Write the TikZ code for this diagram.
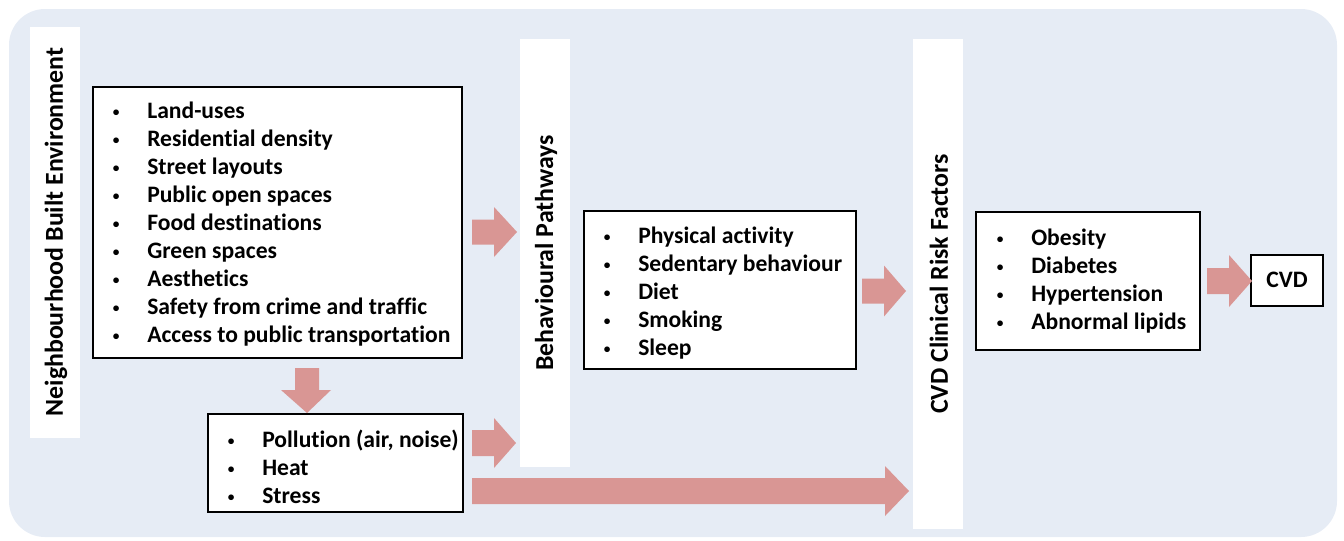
\documentclass[tikz,border=0pt]{standalone}
\usepackage{fontspec}
\setmainfont{Carlito}[Ligatures=NoCommon]
\definecolor{bgblue}{RGB}{230,236,245}
\definecolor{arrowpink}{RGB}{217,150,148}
\newcommand\itm[1]{\makebox[0pt]{\raisebox{0.9pt}{\fontsize{10}{10}\selectfont •}}\hspace{23.25pt}#1\\}
\newcommand\harrow[6]{\fill[arrowpink] (#1,#2-#5) -- (#3,#2-#5) -- (#3,#2-#6) -- (#4,#2) -- (#3,#2+#6) -- (#3,#2+#5) -- (#1,#2+#5) -- cycle;}
\begin{document}
\begin{tikzpicture}[x=0.75pt,y=-0.75pt,
  txt/.style={font=\fontsize{17.7}{21}\selectfont\bfseries, inner sep=0pt},
  vtxt/.style={font=\fontsize{19.4}{23}\selectfont\bfseries, inner sep=0pt, rotate=90},
  box/.style={draw=black, line width=1.1pt, fill=white}]
\useasboundingbox (0,0) rectangle (1344,540);
\fill[bgblue, rounded corners=27pt] (9,9) rectangle (1337,537);
% white bars
\fill[white] (30,27) rectangle (80,438);
\fill[white] (520,39) rectangle (570,467);
\fill[white] (913,39) rectangle (963,529);
\node[vtxt] (nbe) at (56,232) {Neighbourhood Built Environment};
\node[vtxt] (bp) at (546,253) {Behavioural Pathways};
\node[vtxt] (crf) at (939,284) {CVD Clinical Risk Factors};
% boxes
\draw[box] (93,87) rectangle (462,358);
\draw[box] (208,414) rectangle (463,512);
\draw[box] (584,211) rectangle (856,369);
\draw[box] (976,212) rectangle (1200,350);
\draw[box] (1251,255) rectangle (1323,306);
% lists
\node[txt, anchor=base west] (l1) at (116,118) {\begin{tabular}[t]{@{}l@{}}
\itm{Land-uses}\itm{Residential density}\itm{Street layouts}\itm{Public open spaces}\itm{Food destinations}\itm{Green spaces}\itm{Aesthetics}\itm{Safety from crime and traffic}\itm{Access to public transportation}\end{tabular}};
\node[txt, anchor=base west] (l2) at (231,447) {\begin{tabular}[t]{@{}l@{}}
\itm{Pollution (air, noise)}\itm{Heat}\itm{Stress}\end{tabular}};
\node[txt, anchor=base west] (l3) at (607,243) {\begin{tabular}[t]{@{}l@{}}
\itm{Physical activity}\itm{Sedentary behaviour}\itm{Diet}\itm{Smoking}\itm{Sleep}\end{tabular}};
\node[txt, anchor=base west] (l4) at (1000,245) {\begin{tabular}[t]{@{}l@{}}
\itm{Obesity}\itm{Diabetes}\itm{Hypertension}\itm{Abnormal lipids}\end{tabular}};
\node[txt, anchor=base] (cvd) at (1287,287) {CVD};
% block arrows
\harrow{472}{232}{494}{517}{12.5}{25}
\harrow{472}{443}{494}{516}{13}{25}
\harrow{472}{491}{885}{909}{13}{25}
\harrow{862}{291}{884}{906}{12.5}{25.5}
\harrow{1207}{281}{1229}{1252}{13}{26}
\fill[arrowpink] (295,368) -- (319,368) -- (319,390) -- (331,390) -- (307,413) -- (281,390) -- (295,390) -- cycle;
\end{tikzpicture}
\end{document}
